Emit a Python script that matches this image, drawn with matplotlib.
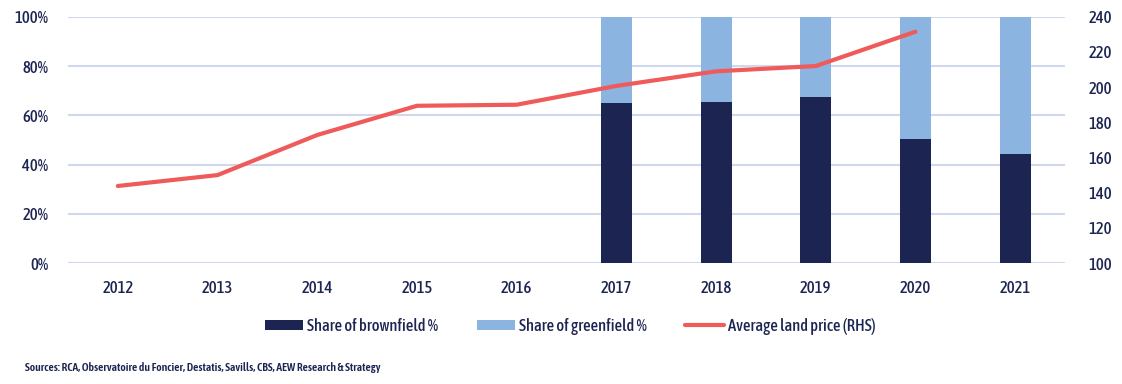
import numpy as np
import matplotlib.pyplot as plt
from matplotlib.ticker import FuncFormatter

plt.rcParams['font.family'] = ['Asap Condensed', 'DejaVu Sans']
plt.rcParams['font.weight'] = 'medium'

years = ['2012', '2013', '2014', '2015', '2016', '2017', '2018', '2019', '2020', '2021']
brownfield = [np.nan, np.nan, np.nan, np.nan, np.nan, 0.65, 0.655, 0.675, 0.504, 0.443]
greenfield = [np.nan, np.nan, np.nan, np.nan, np.nan, 0.35, 0.345, 0.325, 0.496, 0.557]
land_price = [143.8, 150.0, 172.8, 189.4, 190.0, 200.7, 209.0, 212.0, 231.5, np.nan]

NAVY = '#1c2551'
LIGHT = '#8cb4e0'
RED = '#ef5b5b'
GRID = '#d0d8ee'
TXT = '#1c2551'

fig = plt.figure(figsize=(11.22, 3.84), dpi=100)
ax = fig.add_axes([0.0606, 0.315, 0.8886, 0.6413])
ax2 = ax.twinx()

x = np.arange(len(years))
b1 = ax.bar(x, brownfield, width=0.31, color=NAVY, label='Share of brownfield %', zorder=2)
b2 = ax.bar(x, greenfield, width=0.31, bottom=brownfield, color=LIGHT,
            label='Share of greenfield %', zorder=2)
l1, = ax2.plot(x, land_price, color=RED, lw=3, solid_capstyle='round',
               label='Average land price (RHS)', zorder=3)

ax.set_xlim(-0.5, len(years) - 0.5)
ax.set_ylim(0, 1)
ax.set_yticks(np.arange(0, 1.01, 0.2))
ax.yaxis.set_major_formatter(FuncFormatter(lambda v, p: f'{v*100:.0f}%'))
ax2.set_ylim(100, 240)
ax2.set_yticks(np.arange(100, 241, 20))

ax.set_xticks(x)
ax.set_xticklabels(years)
ax.grid(axis='y', color=GRID, lw=1.5, zorder=0)
ax.set_axisbelow(True)

for a in (ax, ax2):
    for s in a.spines.values():
        s.set_visible(False)
    a.tick_params(length=0, labelsize=12, colors=TXT)
ax.tick_params(axis='x', pad=12)
ax.tick_params(axis='y', pad=14)
ax2.tick_params(axis='y', pad=17)

fig.legend(handles=[b1, b2, l1], loc='center', bbox_to_anchor=(0.508, 0.15), ncol=3,
           frameon=False, fontsize=12, labelcolor=TXT, handlelength=2.3,
           handleheight=0.6, columnspacing=2.3, handletextpad=0.25)

fig.text(0.022, 0.043, 'Sources: RCA, Observatoire du Foncier, Destatis, Savills, CBS, AEW Research & Strategy',
         fontsize=8.3, color=TXT, va='center', weight='semibold')

fig.savefig('out.png', dpi=100)
